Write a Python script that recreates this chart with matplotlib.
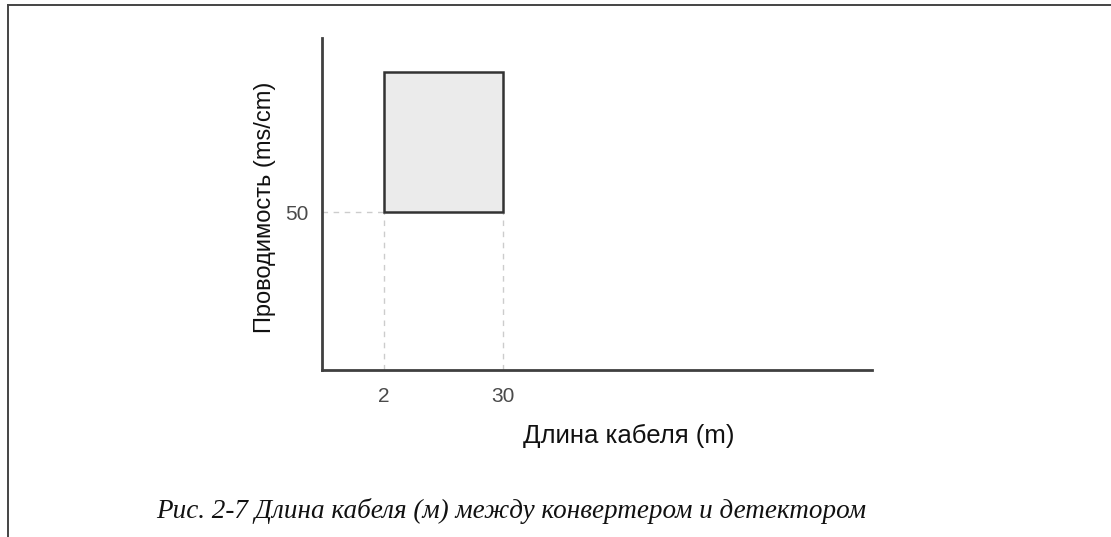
import matplotlib
matplotlib.use("Agg")
import matplotlib.pyplot as plt
from matplotlib.patches import Rectangle
from matplotlib.lines import Line2D

# Data (schematic zone)
cable_length_range = [2, 30]        # m
conductivity_range = [50, 100]      # ms/cm (upper bound unlabeled)
x_ticks = [2, 30]
x_tick_labels = ["2", "30"]
y_ticks = [50]
y_tick_labels = ["50"]

W, H = 1111, 537
fig = plt.figure(figsize=(W / 100, H / 100), dpi=100)
fig.patch.set_facecolor("white")

# Frame lines (top and left of page box)
fig.add_artist(Line2D([8 / W, 1.0], [1 - 5 / H, 1 - 5 / H], transform=fig.transFigure,
                      color="#444444", lw=1.4))
fig.add_artist(Line2D([8 / W, 8 / W], [1 - 5 / H, 0], transform=fig.transFigure,
                      color="#444444", lw=1.4))

ax = fig.add_axes([322 / W, 1 - 370 / H, (872 - 322) / W, (370 - 38) / H])
ax.set_xlim(-12.6, 116.8)
ax.set_ylim(-6, 112)
for s in ["top", "right"]:
    ax.spines[s].set_visible(False)
for s in ["left", "bottom"]:
    ax.spines[s].set_color("#404040")
    ax.spines[s].set_linewidth(2.0)

x0, x1 = cable_length_range
y0, y1 = conductivity_range
ax.add_patch(Rectangle((x0, y0), x1 - x0, y1 - y0, facecolor="#ebebeb",
                       edgecolor="#333333", lw=1.8, zorder=3))
# dashed guide lines
ax.plot([ax.get_xlim()[0], x0], [y0, y0], ls=(0, (4, 4)), color="#cccccc", lw=1.0, zorder=2)
for xv in cable_length_range:
    ax.plot([xv, xv], [ax.get_ylim()[0], y0], ls=(0, (4, 4)), color="#cccccc", lw=1.0, zorder=2)

ax.set_xticks(x_ticks)
ax.set_xticklabels(x_tick_labels)
ax.set_yticks(y_ticks)
ax.set_yticklabels(y_tick_labels)
ax.tick_params(length=0, labelsize=15, labelcolor="#4a4a4a")
ax.tick_params(axis="x", pad=12)
ax.tick_params(axis="y", pad=10)
for t in ax.get_xticklabels() + ax.get_yticklabels():
    t.set_family("Liberation Sans")

fig.text(265 / W, 1 - 207 / H, "Проводимость (ms/cm)", rotation=90, ha="center", va="center",
         fontsize=17, family="Liberation Sans", color="#111111")
fig.text(629 / W, 1 - 436 / H, "Длина кабеля (m)", ha="center", va="center",
         fontsize=18.5, family="Liberation Sans", color="#111111")
fig.text(511 / W, 1 - 511 / H, "Рис. 2-7 Длина кабеля (м) между конвертером и детектором",
         ha="center", va="center", fontsize=19.5, family="Liberation Serif", style="italic",
         color="#111111")

fig.savefig("out.png", dpi=100, facecolor="white")
